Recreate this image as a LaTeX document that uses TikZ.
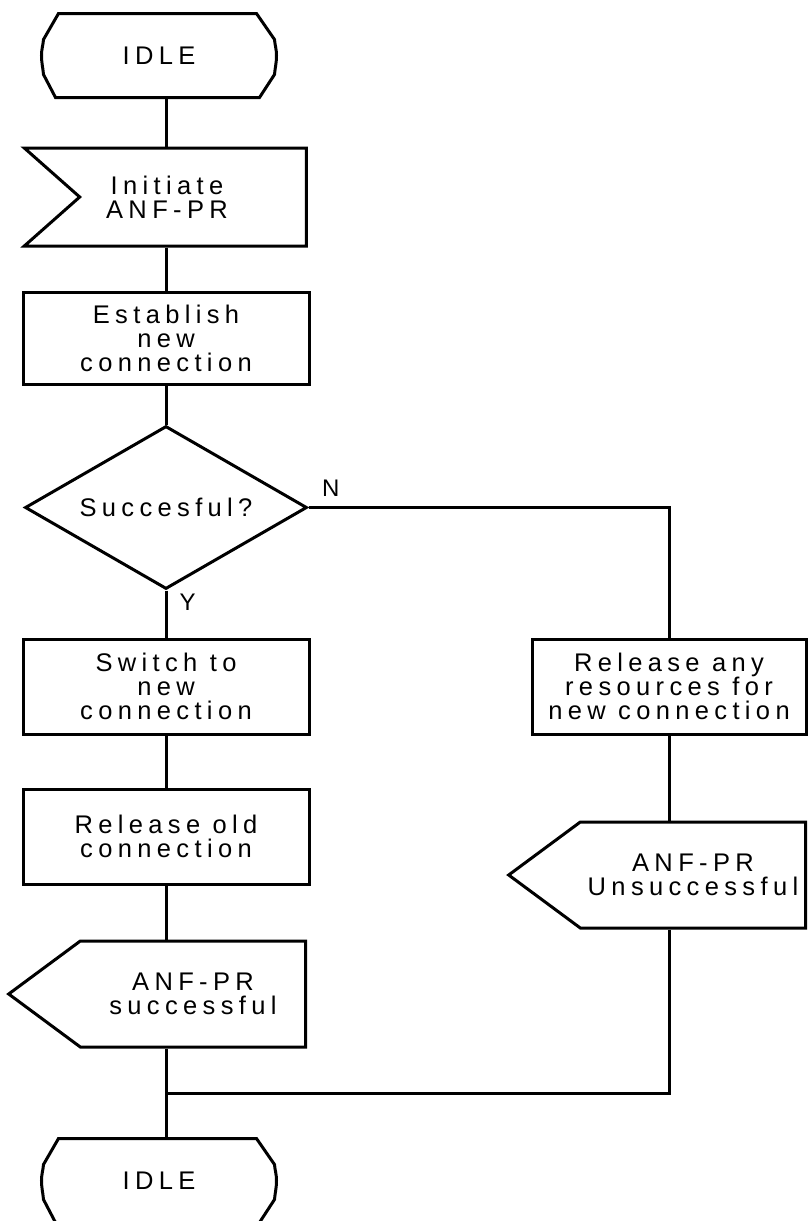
\documentclass[tikz,border=0pt]{standalone}
\usepackage{fontspec}
\newfontfamily\flowfont[LetterSpace=21]{Liberation Sans}
\usetikzlibrary{calc}
\usetikzlibrary{positioning}
\usetikzlibrary{shapes.geometric}
\usetikzlibrary{shapes.symbols}

\begin{document}
\begin{tikzpicture}[
		x=1pt,y=1pt,line width=3pt,
		every node/.style={font=\flowfont\fontsize{25.5}{24}\selectfont,align=center},
		state/.style={draw=none,rectangle,minimum width=232pt,minimum height=81pt,inner sep=0pt},
		process/.style={draw,rectangle,minimum width=286pt,minimum height=95pt,inner sep=0pt},
		decision/.style={draw,diamond,aspect=1.73,minimum width=282pt,minimum height=163pt,inner sep=0pt},
		input/.style={draw,signal,signal from=west,signal to=nowhere,signal pointer angle=83,minimum width=282pt,minimum height=98pt},
		output/.style={draw,signal,signal to=west,signal pointer angle=73,minimum width=297pt,minimum height=106pt},
		answer/.style={font=\flowfont\fontsize{24}{24}\selectfont,inner sep=2pt}
	]
		\useasboundingbox (0,0) rectangle (807,-1221);

		\node [input,label={[align=center,xshift=-26pt]center:{Initiate\\ANF-PR}}] (init) at (193,-197) {};
		\node [state,above=49pt of init,xshift=-34pt] (idle_top) {IDLE};
		\node [process,below=43pt of init,xshift=-27pt,minimum height=92pt] (establish) {Establish\\new\\connection};
		\node [decision,below=39pt of establish] (decision) {Succesful?};
		\node [process,below=47pt of decision] (switch) {Switch to\\new\\connection};
		\node [process,below=52pt of switch] (release_old) {Release old\\connection};
		\node [output,below=54pt of release_old,xshift=27pt] (ok_out) {ANF-PR\\successful};
		\node [state,below=253pt of release_old,xshift=-7pt] (idle_end) {IDLE};

		\node [process,right=220pt of switch,minimum width=274pt] (fail_box) {Release any\\resources for\\new connection};
		\node [output,below=85pt of fail_box,xshift=24pt] (fail_out) {ANF-PR\\Unsuccessful};

		\foreach \s in {idle_top,idle_end}
			\draw ([xshift=17pt]\s.north west) -- ([xshift=-20pt]\s.north east)
				-- ([xshift=-2pt,yshift=-26pt]\s.north east) to[out=-85,in=90] (\s.east)
				to[out=-90,in=85] ([xshift=-2pt,yshift=23pt]\s.south east)
				-- ([xshift=-17pt]\s.south east) -- ([xshift=14pt]\s.south west)
				-- ([xshift=2pt,yshift=23pt]\s.south west) to[out=95,in=-90] (\s.west)
				to[out=90,in=-95] ([xshift=2pt,yshift=-26pt]\s.north west) -- cycle;

		\coordinate (join) at ($(release_old.south |- ok_out.south)!0.5!(release_old.south |- idle_end.north)$);

		\draw (establish.north |- idle_top.south) -- (establish.north |- init.north);
		\draw (establish.north |- init.south) -- (establish.north);
		\draw (establish) -- (decision);
		\draw (decision.south) -- node [answer,pos=0,anchor=north west,xshift=10pt,yshift=0pt] {Y} (switch.north);
		\draw (decision.east) -| node [answer,pos=0,anchor=south west,xshift=10pt,yshift=8pt] {N} (fail_box.north);
		\draw (switch) -- (release_old);
		\draw (release_old.south) -- (release_old.south |- ok_out.north);
		\draw (release_old.south |- ok_out.south) -- (release_old.south |- idle_end.north);

		\draw (fail_box) -- (fail_box |- fail_out.north);
		\draw (fail_out.south -| fail_box) |- (join);
	\end{tikzpicture}
\end{document}
